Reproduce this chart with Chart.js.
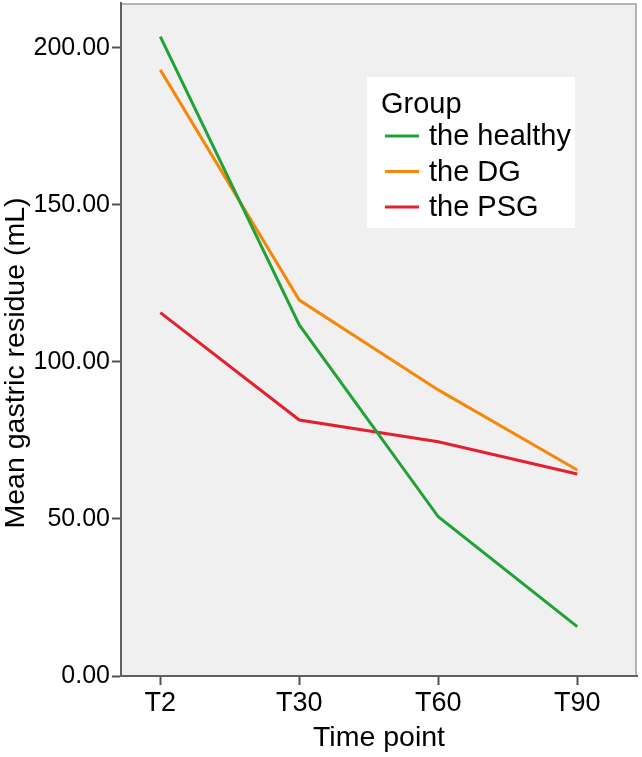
<!DOCTYPE html>
<html>
<head>
<meta charset="utf-8">
<script src="https://cdn.jsdelivr.net/npm/chart.js@4.4.1/dist/chart.umd.min.js"></script>
<style>
  html, body { margin: 0; padding: 0; background: #fff; }
  #wrap { width: 642px; height: 757px; position: relative; }
</style>
</head>
<body>
<div id="wrap"><canvas id="c" width="642" height="757"></canvas></div>
<script>
  // data
  var timePoints = ["T2", "T30", "T60", "T90"];
  var yTicks = [0, 50, 100, 150, 200];
  var healthy = [203.6, 111.8, 50.7, 15.7];
  var dg = [193.0, 119.7, 91.1, 65.6];
  var psg = [115.7, 81.5, 74.6, 64.3];

  var FONT = '"Liberation Sans", Arial, Helvetica, sans-serif';
  var Y_TITLE = "Mean gastric residue (mL)";

  function pts(arr) {
    return arr.map(function (v, i) { return { x: i, y: v }; });
  }

  // plot background + light frame on top/right
  var plotBg = {
    id: "plotBg",
    beforeDraw: function (chart) {
      var a = chart.chartArea, ctx = chart.ctx;
      ctx.save();
      ctx.fillStyle = "#f0f0f0";
      ctx.fillRect(a.left, a.top, a.right - a.left, a.bottom - a.top);
      ctx.strokeStyle = "#b4b4b4";
      ctx.lineWidth = 2;
      ctx.beginPath();
      ctx.moveTo(a.left, a.top + 1);
      ctx.lineTo(a.right - 1, a.top + 1);
      ctx.lineTo(a.right - 1, a.bottom);
      ctx.stroke();
      ctx.restore();
    }
  };

  // y title sits a bit below the axis centre in the original, so draw it here
  var yTitle = {
    id: "yTitle",
    afterDraw: function (chart) {
      var ctx = chart.ctx;
      ctx.save();
      ctx.translate(16, 363);
      ctx.rotate(-Math.PI / 2);
      ctx.font = "28.5px " + FONT;
      ctx.fillStyle = "#000";
      ctx.textAlign = "center";
      ctx.textBaseline = "middle";
      ctx.fillText(Y_TITLE, 0, 0);
      ctx.restore();
    }
  };

  // legend box inside the plot, like the SPSS one
  var boxLegend = {
    id: "boxLegend",
    afterDraw: function (chart) {
      var a = chart.chartArea, ctx = chart.ctx;
      var x0 = a.left + 246, y0 = a.top + 74;
      ctx.save();
      ctx.fillStyle = "#ffffff";
      ctx.fillRect(x0, y0, 208, 151);
      ctx.fillStyle = "#000";
      ctx.font = "29px " + FONT;
      ctx.textBaseline = "middle";
      ctx.fillText("Group", x0 + 14, y0 + 28);
      chart.data.datasets.forEach(function (ds, i) {
        var y = y0 + 59 + i * 35.5;
        ctx.strokeStyle = ds.borderColor;
        ctx.lineWidth = 3;
        ctx.beginPath();
        ctx.moveTo(x0 + 18, y);
        ctx.lineTo(x0 + 52, y);
        ctx.stroke();
        ctx.fillText(ds.label, x0 + 62, y + 1);
      });
      ctx.restore();
    }
  };

  new Chart(document.getElementById("c"), {
    type: "line",
    data: {
      datasets: [
        { label: "the healthy", data: pts(healthy), borderColor: "#20a236" },
        { label: "the DG", data: pts(dg), borderColor: "#f5870a" },
        { label: "the PSG", data: pts(psg), borderColor: "#e3202f" }
      ]
    },
    options: {
      responsive: false,
      animation: false,
      layout: { padding: { top: 3, right: 5, left: 0, bottom: 0 } },
      elements: {
        line: { borderWidth: 3, tension: 0 },
        point: { radius: 0 }
      },
      plugins: { legend: { display: false }, tooltip: { enabled: false } },
      scales: {
        x: {
          type: "linear",
          min: -0.283,
          max: 3.43,
          afterBuildTicks: function (s) { s.ticks = timePoints.map(function (_, i) { return { value: i }; }); },
          afterFit: function (s) { s.height = 81; s.paddingLeft = 0; s.paddingRight = 0; },
          ticks: {
            font: { family: FONT, size: 27 },
            color: "#000",
            padding: 2,
            callback: function (v) { return timePoints[v]; }
          },
          grid: { drawOnChartArea: false, tickLength: 9, tickColor: "#505050", tickWidth: 2 },
          border: { color: "#606060", width: 2 },
          title: { display: true, text: "Time point", font: { family: FONT, size: 28.5 }, color: "#000", padding: { top: 0, bottom: 2 } }
        },
        y: {
          min: 0,
          max: 214.3,
          afterBuildTicks: function (s) { s.ticks = yTicks.map(function (v) { return { value: v }; }); },
          afterFit: function (s) { s.width = 121; s.paddingTop = 0; s.paddingBottom = 0; },
          ticks: {
            font: { family: FONT, size: 25 },
            color: "#000",
            padding: 2,
            callback: function (v) { return v.toFixed(2); }
          },
          grid: { drawOnChartArea: false, tickLength: 9, tickColor: "#505050", tickWidth: 2 },
          border: { color: "#606060", width: 2 },
          title: { display: false, text: Y_TITLE }
        }
      }
    },
    plugins: [plotBg, yTitle, boxLegend]
  });
</script>
</body>
</html>
